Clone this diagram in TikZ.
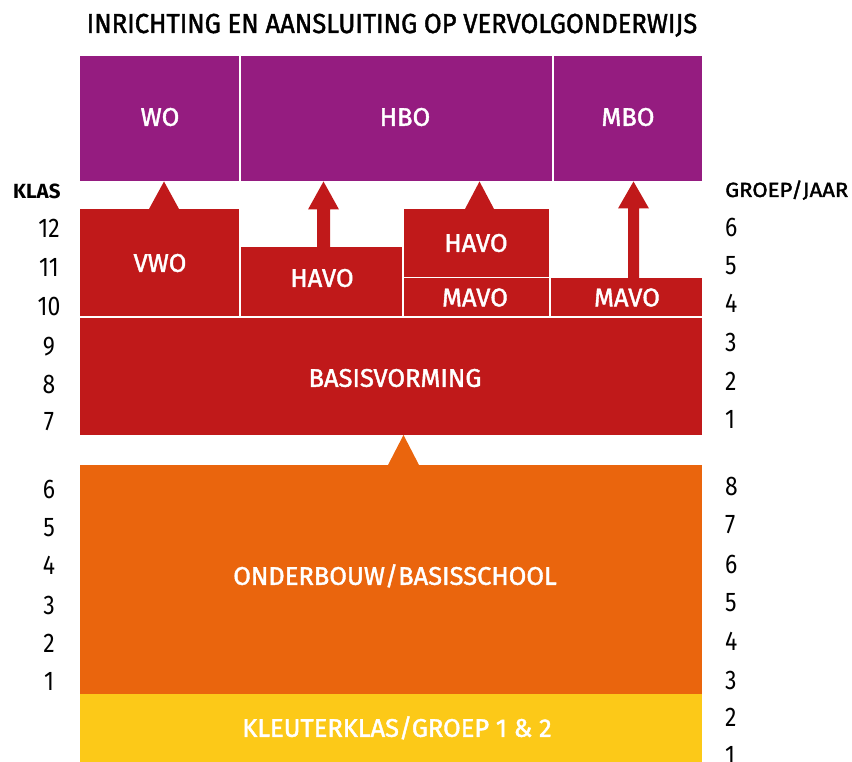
\documentclass[tikz,border=0pt]{standalone}
\usepackage{fontspec}
\setmainfont[FakeStretch=0.85]{Fira Sans}
\newfontfamily\titlefont[FakeStretch=0.93,FakeBold=1.6]{Fira Sans}
\newfontfamily\labfont[FakeStretch=1.0,FakeBold=1.6]{Fira Sans}
\newfontfamily\hdrfont[FakeStretch=1.0]{Fira Sans}
\newfontfamily\hdrmedfont[FakeStretch=1.08,FakeBold=1.8]{Fira Sans}
\usetikzlibrary{calc}
\definecolor{cpurple}{RGB}{149,28,128}
\definecolor{cred}{RGB}{192,25,26}
\definecolor{corange}{RGB}{234,101,13}
\definecolor{cyellow}{RGB}{252,201,24}
\newcommand\myBlk[6]{\node[blk,fill=#6,minimum width={(#4-#2)*1pt},minimum height={(#5-#3)*1pt}] (#1) at (#2,#3) {};}
% #1 start coordinate, #2 target node, #3 shaft half width, #4 head half width, #5 head length, #6 colour
\newcommand\myUpArrow[6]{%
  \path (#1) coordinate (aa) (aa |- #2.south) coordinate (tt);
  \fill[#6] ($(aa)+(-#3,0)$) -- ($(aa)+(#3,0)$) -- ($(tt)+(#3,#5)$) -- ($(tt)+(#4,#5)$) -- (tt) -- ($(tt)+(-#4,#5)$) -- ($(tt)+(-#3,#5)$) -- cycle;}
\begin{document}
\begin{tikzpicture}[x=1pt,y=-1pt,
  blk/.style={draw=none,inner sep=0pt,outer sep=0pt,anchor=north west},
  lbl/.style={inner sep=0pt,text=white,font=\labfont\fontsize{25.5}{25.5}\selectfont,text height=17.6pt,text depth=0pt},
  num/.style={inner sep=0pt,text=black,font=\fontsize{27}{27}\selectfont,text height=18.6pt,text depth=0pt},
  hdr/.style={inner sep=0pt,text=black,font=\hdrfont\fontsize{20.5}{20.5}\selectfont\bfseries,text height=14pt,text depth=0pt},
  ttl/.style={inner sep=0pt,text=black,font=\titlefont\fontsize{27.5}{27.5}\selectfont,text height=19pt,text depth=0pt}]
\useasboundingbox (0,0) rectangle (852,762);
\fill[white] (0,0) rectangle (852,762);

\node[ttl] (title) at (392,23.5) {INRICHTING EN AANSLUITING OP VERVOLGONDERWIJS};

% top row
\myBlk{wo}{80}{56}{239.3}{181.5}{cpurple}
\myBlk{hbo}{240.8}{56}{552.4}{181.5}{cpurple}
\myBlk{mbo}{553.9}{56}{702}{181.5}{cpurple}
\node[lbl] (two) at (160,117) {WO};
\node[lbl] (thbo) at (405,117) {HBO};
\node[lbl] (tmbo) at (628,117) {MBO};

% secondary
\myBlk{vwo}{80}{209}{239.3}{316}{cred}
\myBlk{havoA}{241}{247}{402}{316}{cred}
\myBlk{havoB}{404}{209}{549}{277}{cred}
\myBlk{mavoA}{404}{278.5}{549}{316}{cred}
\myBlk{mavoB}{550.5}{278.5}{702}{316}{cred}
\myBlk{basis}{80}{317.8}{702}{435}{cred}
\node[lbl] (tvwo) at (160,263) {VWO};
\node[lbl] (thavoA) at (322,278) {HAVO};
\node[lbl] (thavoB) at (476,243) {HAVO};
\node[lbl] (tmavoA) at (475,297.5) {MAVO};
\node[lbl] (tmavoB) at (627,297.5) {MAVO};
\node[lbl] (tbasis) at (395,378) {BASISVORMING};

% primary
\myBlk{onder}{80}{465}{702}{693.5}{corange}
\myBlk{kleuter}{80}{693.5}{702}{762}{cyellow}
\node[lbl] (tonder) at (395,576) {ONDERBOUW/BASISSCHOOL};
\node[lbl] (tkleuter) at (397,728) {KLEUTERKLAS/GROEP 1 \& 2};

% arrows
\myUpArrow{$(vwo.north west)+(84,0)$}{wo}{0}{15}{27.5}{cred}
\myUpArrow{$(havoA.north west)+(82.5,0)$}{hbo}{6.5}{15.5}{28}{cred}
\myUpArrow{$(havoB.north west)+(75.5,0)$}{hbo}{0}{14.5}{27.5}{cred}
\myUpArrow{$(mavoB.north west)+(83,0)$}{mbo}{5.5}{15.5}{27}{cred}
\myUpArrow{$(onder.north west)+(323.5,0)$}{basis}{0}{15.5}{30}{corange}

% year labels
\node[hdr,anchor=west] (klas) at (13,192) {KLAS};
\node[hdr,anchor=west,font=\hdrmedfont\fontsize{20.5}{20.5}\selectfont] (groep) at (725,190) {GROEP/JAAR};
\foreach \n/\yy in {12/228,11/267,10/306,9/346,8/384,7/421,6/489,5/527,4/565,3/605,2/643,1/681}
  \node[num] (l\n) at (49,\yy) {\n};
\foreach \n/\yy [count=\i] in {6/227,5/265,4/303,3/342,2/381,1/419,8/486,7/524,6/564,5/602,4/641,3/680,2/717,1/755}
  \node[num,anchor=west] (r\i) at (725,\yy) {\n};
\end{tikzpicture}
\end{document}
